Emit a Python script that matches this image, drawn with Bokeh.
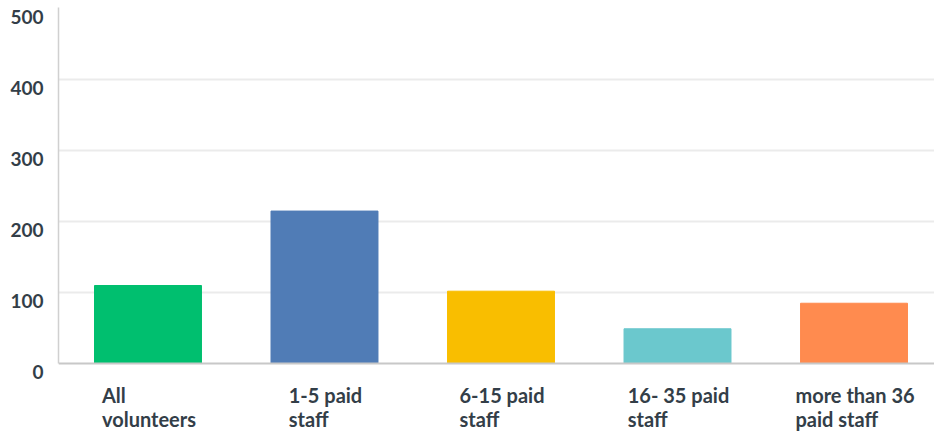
from bokeh.plotting import figure
from bokeh.models import ColumnDataSource, FixedTicker, Range1d, LinearAxis, Span
from bokeh.core.properties import value
from bokeh.embed import file_html
from bokeh.resources import INLINE

categories = ["All\nvolunteers", "1-5 paid\nstaff", "6-15 paid\nstaff", "16- 35 paid\nstaff", "more than 36\npaid staff"]
counts = [110, 215, 102, 49, 85]
colors = ["#00bf6f", "#507cb6", "#f9be00", "#6bc8cd", "#ff8b4f"]
y_ticks = [0, 100, 200, 300, 400, 500]
y_tick_labels = ["0", "100", "200", "300", "400", "500"]

BAR_W = 0.606
FONT = "Lato"
TEXT_COLOR = "#333e48"
Y_START, Y_END = -97.3, 502.1
LABEL_SHIFT = 12  # tick labels sit a little below their gridlines

xs = list(range(len(categories)))
src = ColumnDataSource(dict(
    x=xs, top=counts, color=colors, zero=[0] * len(xs), label=categories,
))

p = figure(width=934, height=432, output_backend="svg", toolbar_location=None,
           x_range=Range1d(-0.507, 4.456), y_range=Range1d(Y_START, Y_END),
           min_border_left=58, min_border_right=0, min_border_top=7, min_border_bottom=0)
p.outline_line_color = None
p.background_fill_color = "white"
p.extra_y_ranges = {"labels": Range1d(Y_START + LABEL_SHIFT, Y_END + LABEL_SHIFT)}

p.vbar(x="x", top="top", bottom=0, width=BAR_W, color="color", source=src)

p.ygrid.ticker = FixedTicker(ticks=[100, 200, 300, 400])
p.ygrid.grid_line_color = "#ebebeb"
p.ygrid.grid_line_width = 2
p.xgrid.grid_line_color = None

p.xaxis.visible = False
p.add_layout(Span(location=0, dimension="width", line_color="#c8c8c8", line_width=2))

# axis line only
yax = p.yaxis[0]
yax.ticker = FixedTicker(ticks=[])
yax.bounds = (0, Y_END)
yax.axis_line_color = "#d0d0d0"
yax.axis_line_width = 1.5
yax.major_tick_line_color = None
yax.minor_tick_line_color = None

# tick labels
lab_ax = LinearAxis(y_range_name="labels", ticker=FixedTicker(ticks=y_ticks),
                    major_label_overrides={t: s for t, s in zip(y_ticks, y_tick_labels)},
                    axis_line_color=None, major_tick_line_color=None, minor_tick_line_color=None,
                    major_label_standoff=9,
                    major_label_text_font=FONT, major_label_text_font_style="bold",
                    major_label_text_font_size="19px", major_label_text_color=TEXT_COLOR)
p.add_layout(lab_ax, "left")

# category labels: block centred under the bar, lines left-aligned
p.text(x="x", y="zero", text="label", source=src, x_offset=1, y_offset=19,
       anchor="top_center", text_align="left", text_baseline="top", text_line_height=1.0,
       text_font=value(FONT), text_font_style="bold",
       text_font_size="20px", text_color=TEXT_COLOR)

open("out.html", "w").write(file_html(p, INLINE))
